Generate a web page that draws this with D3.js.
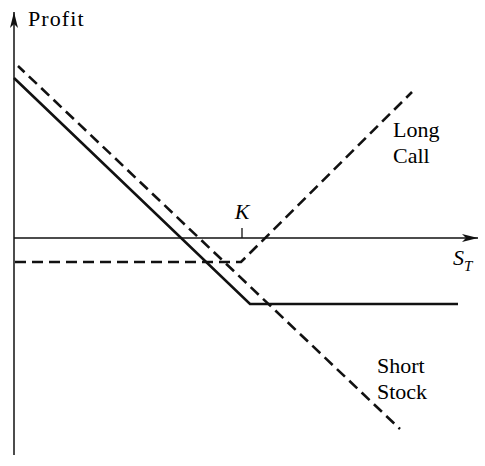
<!DOCTYPE html>
<html><head><meta charset="utf-8">
<script src="https://cdn.jsdelivr.net/npm/d3@7"></script>
<style>body{margin:0;background:#fff}</style>
</head><body>
<svg id="c" width="485" height="466"></svg>
<script>
// data units: S_T along x (origin at the y-axis), profit along y
const strikeK = 228;
const longCall = [[1, -24], [227, -24], [398, 146]];
const shortStock = [[4, 172], [386, -191]];
const combined = [[0, 160], [236, -66], [444, -66]];
const labels = [
  {lines: ["Long", "Call"], at: [379, 101]},
  {lines: ["Short", "Stock"], at: [363, -135]}
];

const svg = d3.select("#c");
const x = d3.scaleLinear().domain([0, 464]).range([14, 478]);
const y = d3.scaleLinear().domain([-217, 227]).range([455, 11]);
const font = "Liberation Serif, Times New Roman, serif";

const defs = svg.append("defs");
defs.append("marker").attr("id", "arr").attr("viewBox", "0 0 16 10")
  .attr("refX", 16).attr("refY", 5).attr("markerWidth", 16).attr("markerHeight", 10)
  .attr("markerUnits", "userSpaceOnUse").attr("orient", "auto")
  .append("path").attr("d", "M0,1 L16,5 L0,9 L4,5 Z").attr("fill", "#111");

// axes
svg.append("line").attr("x1", x(0)).attr("y1", y(0)).attr("x2", x(464)).attr("y2", y(0))
  .attr("stroke", "#111").attr("stroke-width", 1.5).attr("marker-end", "url(#arr)");
svg.append("line").attr("x1", x(0)).attr("y1", y(-217)).attr("x2", x(0)).attr("y2", y(226))
  .attr("stroke", "#111").attr("stroke-width", 1.5).attr("marker-end", "url(#arr)");

// K tick
svg.append("line").attr("x1", x(strikeK)).attr("x2", x(strikeK)).attr("y1", y(0)).attr("y2", y(10))
  .attr("stroke", "#111").attr("stroke-width", 1.3);
svg.append("text").attr("x", x(strikeK)).attr("y", y(19)).attr("text-anchor", "middle")
  .attr("font-family", font).attr("font-style", "italic").attr("font-size", 22).text("K");

const line = d3.line().x(d => x(d[0])).y(d => y(d[1]));
svg.append("path").attr("d", line(longCall)).attr("fill", "none").attr("stroke", "#111")
  .attr("stroke-width", 2.6).attr("stroke-dasharray", "11,6");
svg.append("path").attr("d", line(shortStock)).attr("fill", "none").attr("stroke", "#111")
  .attr("stroke-width", 2.6).attr("stroke-dasharray", "11,6").attr("stroke-dashoffset", 2);
svg.append("path").attr("d", line(combined)).attr("fill", "none").attr("stroke", "#111")
  .attr("stroke-width", 2.6).attr("stroke-linejoin", "miter");

// axis labels
svg.append("text").attr("x", 28).attr("y", 26).attr("font-family", font).attr("font-size", 22)
  .attr("letter-spacing", 1.1).text("Profit");
const st = svg.append("text").attr("x", 453).attr("y", 265).attr("font-family", font)
  .attr("font-style", "italic").attr("font-size", 22);
st.append("tspan").text("S");
st.append("tspan").attr("font-size", 15).attr("dy", 6).text("T");

labels.forEach(l => {
  const t = svg.append("text").attr("font-family", font).attr("font-size", 22);
  l.lines.forEach((s, i) => t.append("tspan").attr("x", x(l.at[0])).attr("y", y(l.at[1]) + i * 26).text(s));
});
</script>
</body></html>
